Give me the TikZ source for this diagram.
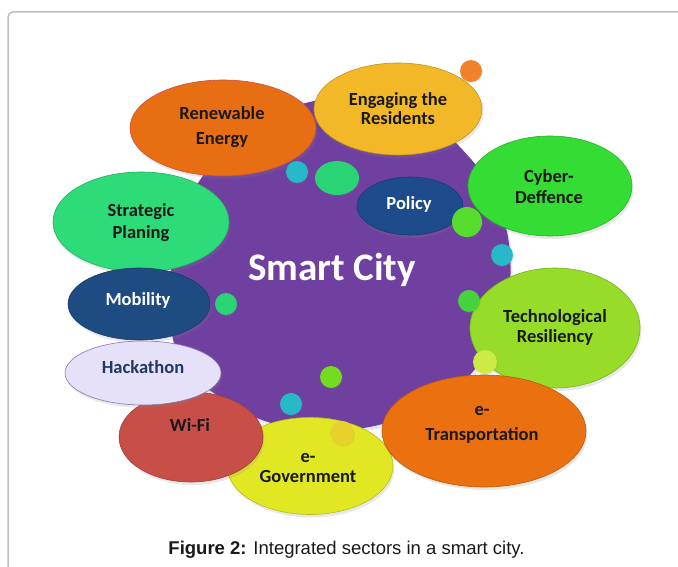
\documentclass[tikz,border=0pt]{standalone}
\usepackage{fontspec}
\setmainfont{Liberation Sans}
\newfontfamily\carl{Carlito}
\usetikzlibrary{shapes.geometric,shadows}
\definecolor{framegray}{RGB}{190,190,190}
\definecolor{cpurple}{RGB}{112,64,160}
\definecolor{cren}{RGB}{232,110,20}
\definecolor{ceng}{RGB}{242,184,40}
\definecolor{ccyb}{RGB}{52,220,52}
\definecolor{cpol}{RGB}{30,75,140}
\definecolor{cstr}{RGB}{45,220,120}
\definecolor{cmob}{RGB}{30,75,130}
\definecolor{ctech}{RGB}{150,220,40}
\definecolor{cgov}{RGB}{225,232,35}
\definecolor{ctrans}{RGB}{235,112,15}
\definecolor{cwifi}{RGB}{200,78,72}
\definecolor{chack}{RGB}{230,224,248}
\definecolor{chackb}{RGB}{140,120,170}
\definecolor{cteal}{RGB}{40,185,200}
\definecolor{cmint}{RGB}{40,212,115}
\definecolor{cbgreen}{RGB}{85,220,45}
\definecolor{cgreen}{RGB}{70,210,60}
\definecolor{clime}{RGB}{115,220,30}
\definecolor{cpale}{RGB}{205,235,70}
\definecolor{cyel}{RGB}{232,208,45}
\definecolor{corange}{RGB}{240,130,45}
\definecolor{ink}{RGB}{25,25,25}
\definecolor{navytext}{RGB}{31,56,100}
\tikzset{
  bub/.style={ellipse, inner sep=0pt, fill=#1, draw=#1!80!black, line width=0.6pt,
    drop shadow={opacity=0.18, shadow xshift=1.5pt, shadow yshift=-3pt}},
  dot/.style={circle, inner sep=0pt, fill=#1, minimum size=22pt,
    drop shadow={opacity=0.15, shadow xshift=1pt, shadow yshift=-1.5pt}},
  lbl/.style={font=\carl\bfseries\fontsize{18.5}{22}\selectfont, text=ink, align=center, inner sep=0pt},
  ls/.style={font=\carl\bfseries\fontsize{18.5}{#1}\selectfont}
}
\begin{document}
\begin{tikzpicture}[x=1pt,y=-1pt]
\useasboundingbox (0,0) rectangle (678,567);
\clip (0,0) rectangle (678,567);
\fill[white] (0,0) rectangle (678,567);
\draw[framegray, line width=1.5pt, rounded corners=5pt] (8,12) rectangle (720,620);

% central blob
\fill[cpurple, drop shadow={opacity=0.18, shadow xshift=2pt, shadow yshift=-3pt}]
  plot[smooth cycle, tension=0.7] coordinates {
  (345,100) (420,118) (470,158) (498,205) (510,255) (505,310) (482,360)
  (440,400) (390,422) (335,430) (275,424) (228,402) (190,372) (172,335)
  (170,280) (180,225) (200,180) (240,135) (290,108)};

% sector bubbles
\node[bub=cstr, minimum width=176pt, minimum height=100pt] (strE) at (141,222) {};
\node[bub=cren, draw=cwifi, minimum width=186pt, minimum height=96pt] (renE) at (223,128) {};
\node[bub=ceng, minimum width=168pt, minimum height=92pt] (engE) at (398,109) {};
\node[bub=ccyb, minimum width=164pt, minimum height=100pt] (cybE) at (550,186) {};
\node[bub=cpol, minimum width=106pt, minimum height=58pt] (polE) at (410,206) {};
\node[bub=cmob, minimum width=142pt, minimum height=72pt] (mobE) at (139,304) {};
\node[bub=ctech, minimum width=170pt, minimum height=120pt] (techE) at (555,328) {};
\node[bub=cgov, minimum width=166pt, minimum height=97pt] (govE) at (310,466) {};
\node[bub=ctrans, minimum width=204pt, minimum height=112pt] (transE) at (484,431) {};
\node[bub=cwifi, minimum width=144pt, minimum height=90pt] (wifiE) at (191,437) {};
\node[bub=chack, draw=chackb, minimum width=156pt, minimum height=64pt] (hackE) at (143,373) {};

% small circles
\node[dot=cteal] (d1) at (297,172) {};
\node[dot=cmint, ellipse, minimum width=44pt, minimum height=34pt] (d2) at (337,178) {};
\node[dot=cbgreen, minimum size=30pt] (d3) at (467,222) {};
\node[dot=cteal] (d4) at (502,255) {};
\node[dot=cgreen] (d5) at (469,301) {};
\node[dot=cpale, minimum size=24pt] (d6) at (485,362) {};
\node[dot=cmint] (d7) at (226,304) {};
\node[dot=clime] (d8) at (331,377) {};
\node[dot=cteal] (d9) at (291,404) {};
\node[dot=cyel, minimum size=24pt] (d10) at (342,433) {};
\node[dot=corange] (d11) at (471,71) {};

% labels
\node[lbl, font=\carl\bfseries\fontsize{39}{44}\selectfont, text=white] (smart) at (332,270) {Smart City};
\node[lbl, ls=25] (renT) at (222,127.5) {Renewable\\Energy};
\node[lbl, ls=19] (engT) at (398,108.5) {Engaging the\\Residents};
\node[lbl, ls=21] (cybT) at (549,186.5) {Cyber-\\Deffence};
\node[lbl, text=white] (polT) at (409,204) {Policy};
\node[lbl, ls=21.5] (strT) at (141,222.5) {Strategic\\Planing};
\node[lbl, text=white] (mobT) at (138,300) {Mobility};
\node[lbl, text=navytext] (hackT) at (143,367) {Hackathon};
\node[lbl] (wifiT) at (190,425) {Wi-Fi};
\node[lbl, ls=20] (govT) at (308,468) {e-\\Government};
\node[lbl, ls=20] (techT) at (555,327) {Technological\\Resiliency};
\node[lbl, ls=25] (transT) at (482,424.5) {e-\\Transportation};

% caption
\node[anchor=base, inner sep=0pt, font=\fontsize{18.5}{22}\selectfont, text=ink] (cap) at (346.5,554)
  {\textbf{Figure 2:} Integrated sectors in a smart city.};
\end{tikzpicture}
\end{document}
